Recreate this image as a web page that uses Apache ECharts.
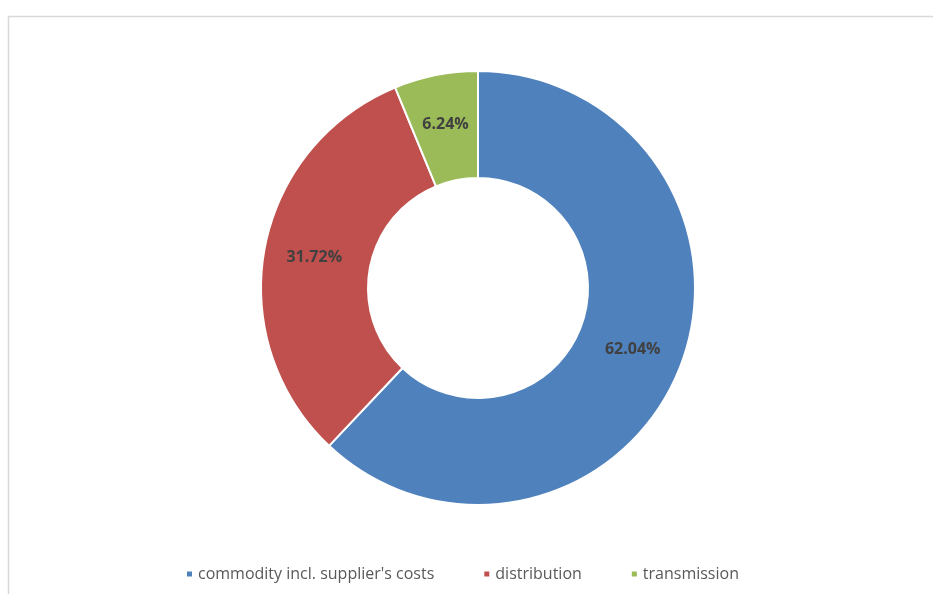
<!DOCTYPE html>
<html>
<head>
<meta charset="utf-8">
<script src="https://cdn.jsdelivr.net/npm/echarts@6/dist/echarts.min.js"></script>
<style>
  html, body { margin: 0; padding: 0; background: #fff; }
  #chart { width: 933px; height: 594px; }
</style>
</head>
<body>
<div id="chart"></div>
<script>
// Cost components of the electricity bill (share of total, %)
const categories = ["commodity incl. supplier's costs", 'distribution', 'transmission'];
const shares = [62.04, 31.72, 6.24];
const colors = ['#4F81BD', '#C0504D', '#9BBB59'];

const chart = echarts.init(document.getElementById('chart'));

const data = categories.map((name, i) => ({
  name: name,
  value: shares[i],
  itemStyle: { color: colors[i] }
}));

chart.setOption({
  backgroundColor: '#ffffff',
  animation: false,
  graphic: [{
    type: 'rect',
    shape: { x: 8.5, y: 16.5, width: 940, height: 600 },
    style: { fill: 'none', stroke: '#d9d9d9', lineWidth: 1.5 },
    silent: true
  }],
  legend: {
    data: categories,
    top: 561,
    left: 180,
    icon: 'rect',
    itemWidth: 7,
    itemHeight: 7,
    itemGap: 48,
    textStyle: {
      fontFamily: 'Open Sans',
      fontSize: 16,
      color: '#595959'
    }
  },
  series: [{
    type: 'pie',
    center: [478, 288],
    radius: [110, 217],
    startAngle: 90,
    clockwise: true,
    avoidLabelOverlap: false,
    itemStyle: { borderColor: '#ffffff', borderWidth: 2 },
    label: {
      show: true,
      position: 'inside',
      formatter: (p) => p.value.toFixed(2) + '%',
      fontFamily: 'Open Sans',
      fontWeight: 'bold',
      fontSize: 16,
      color: '#404040'
    },
    labelLine: { show: false },
    emphasis: { disabled: true },
    data: data
  }]
});
</script>
</body>
</html>
